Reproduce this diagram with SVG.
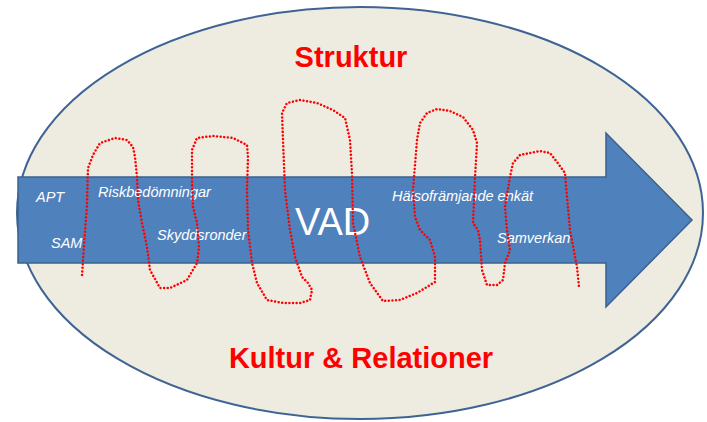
<svg xmlns="http://www.w3.org/2000/svg" width="707" height="422" viewBox="0 0 707 422">
<style>
.head{font-family:"Liberation Sans",Arial,sans-serif;font-weight:bold;fill:#FF0000;text-anchor:middle}
.lbl{font-family:"Liberation Sans",Arial,sans-serif;font-style:italic;fill:#FFFFFF;font-size:14.5px}
.big{font-family:"Liberation Sans",Arial,sans-serif;fill:#FFFFFF;font-size:38px}
.squig{fill:none;stroke:#FF0000;stroke-width:2.5;stroke-linecap:round;stroke-linejoin:round;stroke-dasharray:0.01 3.6}
</style>
<rect width="707" height="422" fill="#FFFFFF"/>
<g id="ellipse">
<ellipse cx="360" cy="213" rx="343" ry="206" fill="#EEEBE0" stroke="#3F6494" stroke-width="2"/>
</g>
<g id="arrow">
<path d="M18,177 L606,177 L606,133 L692,220 L606,307 L606,263 L18,263 Z" fill="#4F81BD" stroke="#3A6190" stroke-width="1.5"/>
</g>
<g id="labels">
<text class="head" x="351" y="67" font-size="29">Struktur</text>
<text class="head" x="361" y="368" font-size="29">Kultur &amp; Relationer</text>
<text class="lbl" x="36" y="202">APT</text>
<text class="lbl" x="51" y="248">SAM</text>
<text class="lbl" x="98" y="197">Riskbedömningar</text>
<text class="lbl" x="157" y="240">Skyddsronder</text>
<text class="big" x="295" y="235">VAD</text>
<text class="lbl" x="392" y="201">Hälsofrämjande enkät</text>
<text class="lbl" x="497" y="243">Samverkan</text>
</g>
<g id="connectors">
<path class="squig" d="M82,275 L84,245 L87,205 L88,168 L93,155 L100,143 L115,138 L127,140 L133,147 L135,157 L137,177 L138,200 L142,223 L147,247 L150,270 L160,288 L170,288 L187,280 L197,263 L199,247 L197,223 L193,207 L192,183 L192,150 L197,138 L213,136 L233,138 L247,145 L248,157 L247,190 L248,230 L252,263 L257,283 L267,300 L283,303 L300,303 L310,300 L312,290 L308,283 L302,277 L295,257 L290,230 L285,190 L283,140 L282,113 L287,103 L300,100 L317,103 L333,110 L345,118 L350,140 L352,173 L353,223 L360,257 L370,283 L383,301 L400,300 L417,293 L435,282 L435,257 L430,240 L420,230 L415,217 L413,190 L417,140 L420,123 L427,113 L437,109 L450,111 L463,117 L473,130 L477,143 L475,177 L473,223 L478,230 L480,240 L482,270 L487,285 L497,285 L503,280 L505,263 L510,250 L507,230 L505,207 L510,177 L513,163 L520,155 L540,151 L550,153 L557,162 L565,173 L567,197 L570,230 L577,267 L579,287"/>
</g>
</svg>
